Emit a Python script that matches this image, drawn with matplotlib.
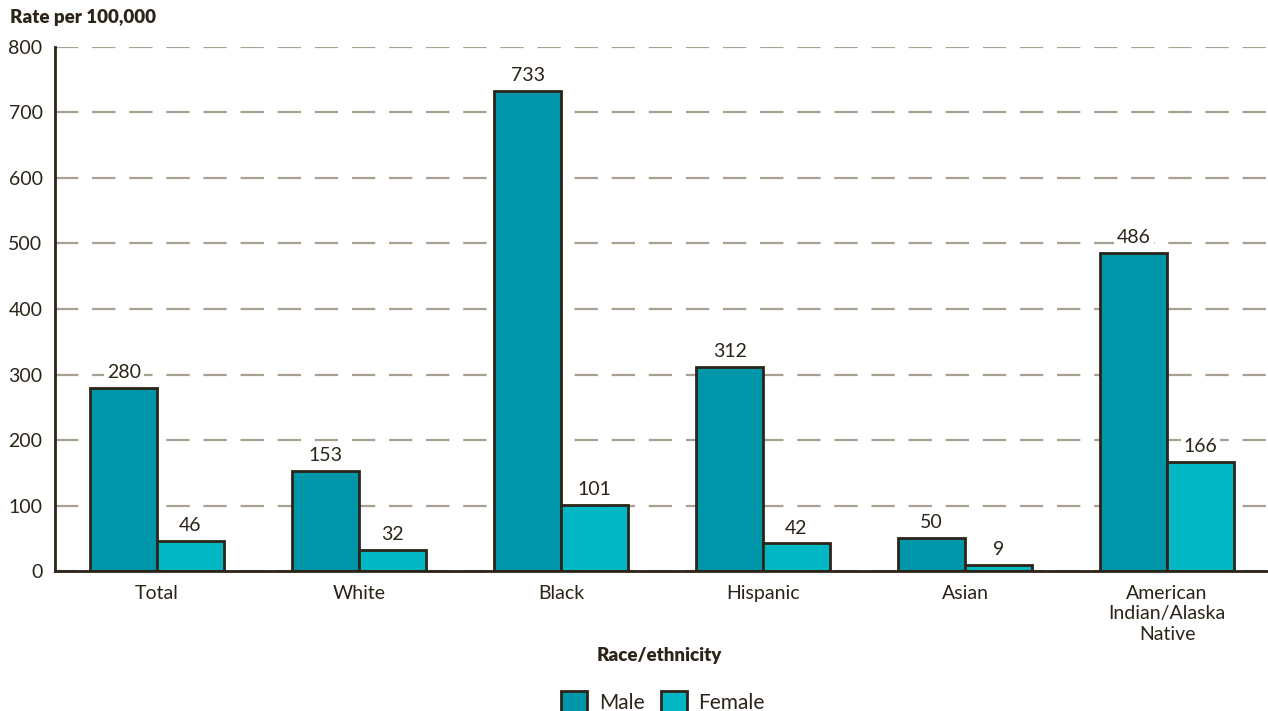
import numpy as np
import matplotlib.pyplot as plt
from matplotlib.patches import Patch

# Rates per 100,000 by race/ethnicity and sex
groups = ['Total', 'White', 'Black', 'Hispanic', 'Asian',
          'American\nIndian/Alaska\nNative']
male = [280, 153, 733, 312, 50, 486]
female = [46, 32, 101, 42, 9, 166]
yticks = [0, 100, 200, 300, 400, 500, 600, 700, 800]

male_color = '#0096a9'
female_color = '#00b7c3'
ink = '#2b2418'
grid_color = '#a8a090'

plt.rcParams['font.family'] = ['Lato', 'DejaVu Sans']

fig = plt.figure(figsize=(12.68, 7.11), dpi=100)
ax = fig.add_axes([0.0434, 0.1969, 0.9566, 0.737])

x = np.arange(len(groups))
w = 0.33
bm = ax.bar(x - w / 2, male, w, color=male_color, edgecolor=ink, linewidth=2, zorder=3)
bf = ax.bar(x + w / 2, female, w, color=female_color, edgecolor=ink, linewidth=2, zorder=3)

# value labels sit on a white box so the grid is cut behind them
for bars, vals in ((bm, male), (bf, female)):
    for b, v in zip(bars, vals):
        ax.annotate(str(v), (b.get_x() + b.get_width() / 2, v),
                    xytext=(0, 5), textcoords='offset points',
                    ha='center', va='bottom', fontsize=14, color=ink, zorder=4,
                    bbox=dict(boxstyle='square,pad=0.15', fc='white', ec='none'))

ax.set_xlim(-0.505, 5.5)
ax.set_ylim(0, 800)
ax.set_yticks(yticks)
ax.set_xticks(x)
ax.set_xticklabels(groups, fontsize=14, color=ink, linespacing=1.25)
ax.tick_params(axis='y', length=0, labelsize=14, labelcolor=ink, pad=9)
ax.tick_params(axis='x', length=0, pad=10)

ax.yaxis.grid(True, color=grid_color, linewidth=1.6, linestyle=(0, (10.5, 6.2)), zorder=0)
ax.set_axisbelow(True)
for s in ('top', 'right'):
    ax.spines[s].set_visible(False)
for s in ('left', 'bottom'):
    ax.spines[s].set_color(ink)
    ax.spines[s].set_linewidth(2)
ax.spines['bottom'].set_zorder(5)

fig.text(0.008, 0.975, 'Rate per 100,000', fontsize=13.5, fontweight='heavy',
         color=ink, ha='left', va='center')
fig.text(0.52, 0.078, 'Race/ethnicity', fontsize=13.5, fontweight='heavy',
         color=ink, ha='center', va='center')

handles = [Patch(facecolor=male_color, edgecolor=ink, linewidth=2, label='Male'),
           Patch(facecolor=female_color, edgecolor=ink, linewidth=2, label='Female')]
leg = fig.legend(handles=handles, loc='center', bbox_to_anchor=(0.523, 0.013),
                 ncol=2, frameon=False, fontsize=15, handlelength=1.25,
                 handleheight=1.25, handletextpad=0.55, columnspacing=0.8)
for t in leg.get_texts():
    t.set_color(ink)

fig.savefig('out.png', dpi=100)
